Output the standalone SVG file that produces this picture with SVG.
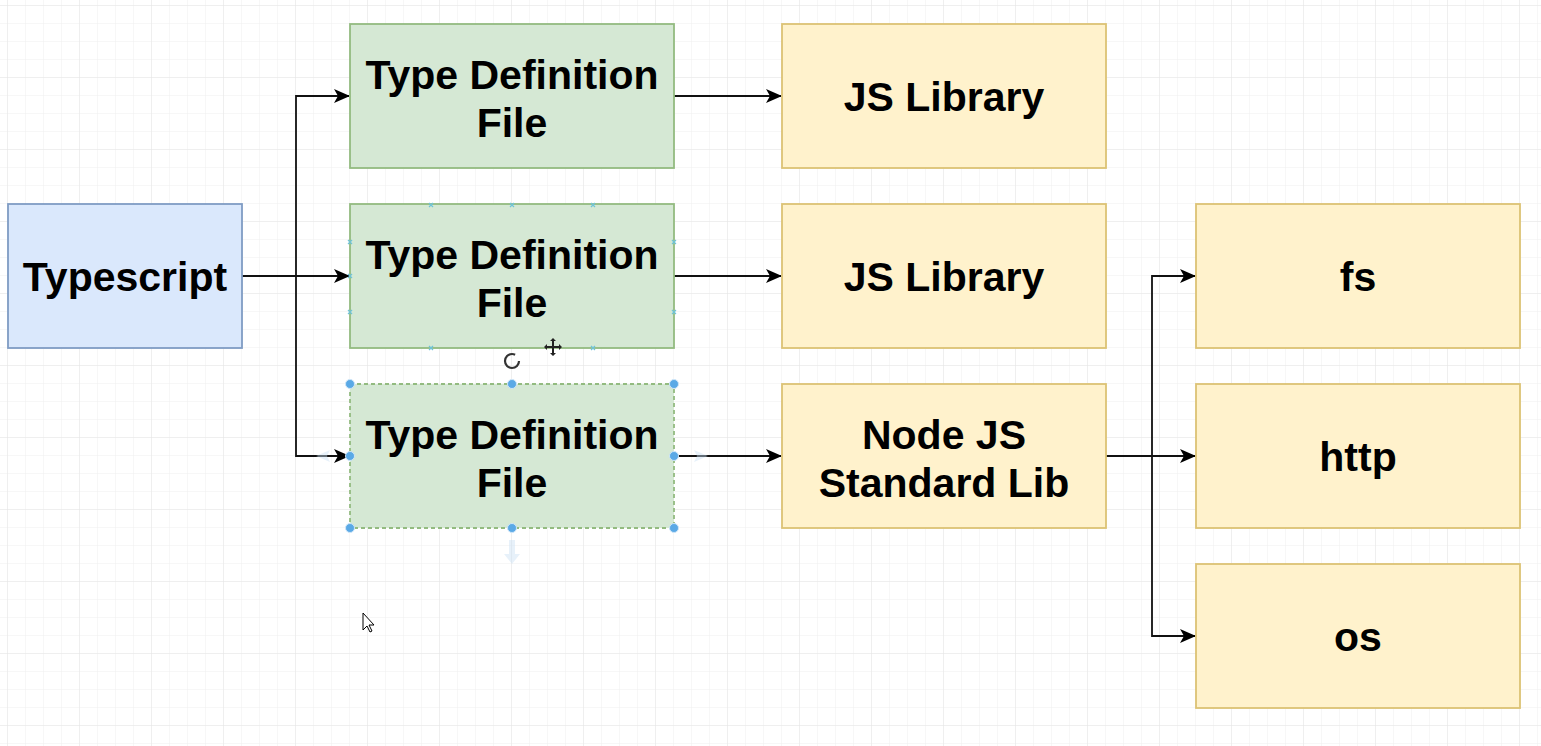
<svg xmlns="http://www.w3.org/2000/svg" width="1541" height="746" viewBox="0 0 1541 746">
<defs>
<pattern id="grid" x="8" y="6" width="18" height="18" patternUnits="userSpaceOnUse">
<path d="M18 0 V18 M0 18 H18" fill="none" stroke="#efefef" stroke-width="1"/>
</pattern>
<pattern id="gridMajor" x="8" y="6" width="72" height="72" patternUnits="userSpaceOnUse">
<path d="M72 0 V72 M0 72 H72" fill="none" stroke="#e6e6e6" stroke-width="1"/>
</pattern>
<marker id="arrow" viewBox="0 0 16 14" refX="15" refY="7" markerWidth="16" markerHeight="14" markerUnits="userSpaceOnUse" orient="auto">
<path d="M0 0 L16 7 L0 14 L4 7 Z" fill="#000"/>
</marker>
<style>
.ts{fill:#dae8fc;stroke:#7f9cc4;stroke-width:1.8}
.tdf{fill:#d5e8d4;stroke:#93bb80;stroke-width:1.8}
.lib{fill:#fff2cc;stroke:#dcc274;stroke-width:1.8}
.lbl{font-family:"Liberation Sans",Arial,sans-serif;font-weight:bold;font-size:41px;fill:#000;text-anchor:middle}
.edge{fill:none;stroke:#111;stroke-width:1.8}
.arr{marker-end:url(#arrow)}
.handle{fill:#5aa9e6;stroke:#cfe6f8;stroke-width:1}
.xm{stroke:#6fc3d8;stroke-width:1.2}
.hint{fill:#c9e1f5;opacity:0.45}
</style>
</defs>
<rect width="1541" height="746" fill="#fff"/>
<rect width="1541" height="746" fill="url(#grid)"/>
<rect width="1541" height="746" fill="url(#gridMajor)"/>

<g id="connectors">
<path class="edge" d="M242 276 H296"/>
<path class="edge arr" d="M296 276 H349"/>
<path class="edge arr" d="M296 276 V96 H349"/>
<path class="edge arr" d="M296 276 V456 H349"/>
<path class="edge arr" d="M674 96 H781"/>
<path class="edge arr" d="M674 276 H781"/>
<path class="edge arr" d="M674 456 H781"/>
<path class="edge" d="M1106 456 H1152"/>
<path class="edge arr" d="M1152 456 H1195"/>
<path class="edge arr" d="M1152 456 V276 H1195"/>
<path class="edge arr" d="M1152 456 V636 H1195"/>
</g>

<g id="typescript">
<rect class="ts" x="8" y="204" width="234" height="144"/>
<text class="lbl" x="125" y="291">Typescript</text>
</g>

<g id="tdf1">
<rect class="tdf" x="350" y="24" width="324" height="144"/>
<text class="lbl" x="512" y="89">Type Definition</text>
<text class="lbl" x="512" y="137">File</text>
</g>

<g id="tdf2">
<rect class="tdf" x="350" y="204" width="324" height="144"/>
<text class="lbl" x="512" y="269">Type Definition</text>
<text class="lbl" x="512" y="317">File</text>
</g>

<g id="tdf3">
<rect class="tdf" x="350" y="384" width="324" height="144" stroke-dasharray="4 3"/>
<text class="lbl" x="512" y="449">Type Definition</text>
<text class="lbl" x="512" y="497">File</text>
</g>

<g id="jslib1">
<rect class="lib" x="782" y="24" width="324" height="144"/>
<text class="lbl" x="944" y="111">JS Library</text>
</g>

<g id="jslib2">
<rect class="lib" x="782" y="204" width="324" height="144"/>
<text class="lbl" x="944" y="291">JS Library</text>
</g>

<g id="nodestd">
<rect class="lib" x="782" y="384" width="324" height="144"/>
<text class="lbl" x="944" y="449">Node JS</text>
<text class="lbl" x="944" y="497">Standard Lib</text>
</g>

<g id="fs">
<rect class="lib" x="1196" y="204" width="324" height="144"/>
<text class="lbl" x="1358" y="291">fs</text>
</g>

<g id="http">
<rect class="lib" x="1196" y="384" width="324" height="144"/>
<text class="lbl" x="1358" y="471">http</text>
</g>

<g id="os">
<rect class="lib" x="1196" y="564" width="324" height="144"/>
<text class="lbl" x="1358" y="651">os</text>
</g>

<g id="ui-overlay">
<g class="xm">
<path d="M429 203 l4 4 M433 203 l-4 4"/>
<path d="M510 203 l4 4 M514 203 l-4 4"/>
<path d="M591 203 l4 4 M595 203 l-4 4"/>
<path d="M429 346 l4 4 M433 346 l-4 4"/>
<path d="M591 346 l4 4 M595 346 l-4 4"/>
<path d="M348 240 l4 4 M352 240 l-4 4"/>
<path d="M348 274 l4 4 M352 274 l-4 4"/>
<path d="M348 310 l4 4 M352 310 l-4 4"/>
<path d="M672 240 l4 4 M676 240 l-4 4"/>
<path d="M672 310 l4 4 M676 310 l-4 4"/>
</g>
<circle cx="512" cy="361" r="7" fill="none" stroke="#333" stroke-width="2.2" stroke-dasharray="36 8"/>
<path d="M553 340 V354 M546 347 H560" stroke="#222" stroke-width="2"/>
<path d="M553 338 l-3 3 h6 z M553 356 l-3 -3 h6 z M544 347 l3 -3 v6 z M562 347 l-3 -3 v6 z" fill="#222"/>
<path class="hint" d="M509 540 h6 v14 h5 l-8 10 l-8 -10 h5 z"/>
<path class="hint" d="M694 450 l14 6 l-14 6 l3 -6 z"/>
<path class="hint" d="M330 450 l-14 6 l14 6 l-3 -6 z"/>
<circle class="handle" cx="350" cy="384" r="4.5"/>
<circle class="handle" cx="512" cy="384" r="4.5"/>
<circle class="handle" cx="674" cy="384" r="4.5"/>
<circle class="handle" cx="350" cy="456" r="4.5"/>
<circle class="handle" cx="674" cy="456" r="4.5"/>
<circle class="handle" cx="350" cy="528" r="4.5"/>
<circle class="handle" cx="512" cy="528" r="4.5"/>
<circle class="handle" cx="674" cy="528" r="4.5"/>
<path d="M363 613 V630 l4 -4 l3 6 l2 -1 l-3 -6 h5 z" fill="#fff" stroke="#000" stroke-width="1"/>
</g>
</svg>
